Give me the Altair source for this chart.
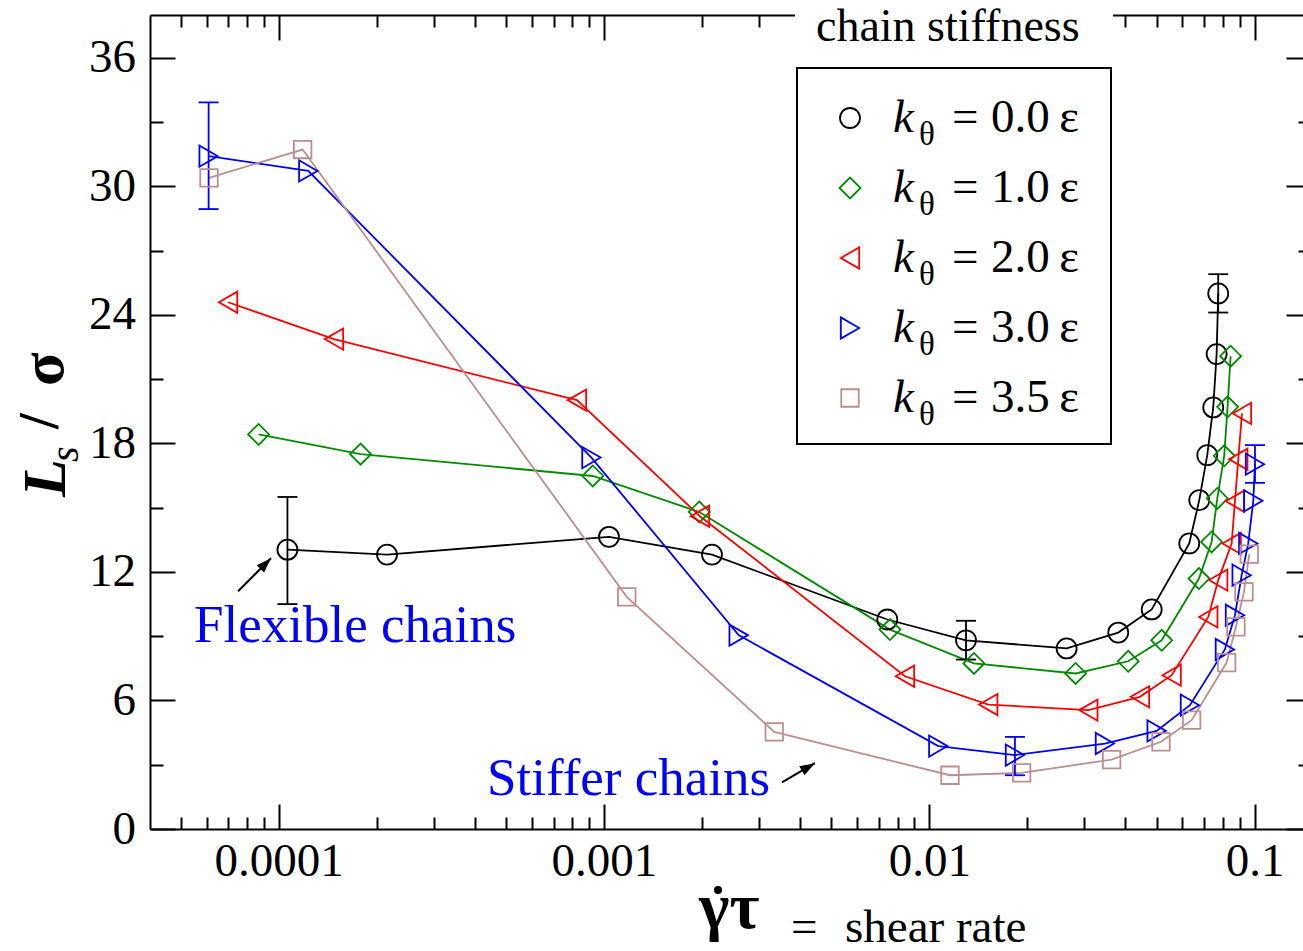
import altair as alt
import pandas as pd

FONT = "Liberation Serif"

# ---------------- data ----------------
series = ["0.0", "1.0", "2.0", "3.0", "3.5"]
colors = ["#000000", "#008b00", "#ff0000", "#0000ff", "#bc8f8f"]
shapes = ["circle", "diamond", "triangle-left", "triangle-right", "square"]
sizes = [400, 441, 450, 450, 306]

k00_x = [1.064e-4, 2.153e-4, 1.036e-3, 2.148e-3, 7.43e-3, 0.01297, 0.02644, 0.0381,
         0.04828, 0.06299, 0.06761, 0.07154, 0.07464, 0.07645, 0.07732]
k00_y = [13.04, 12.81, 13.64, 12.81, 9.78, 8.81, 8.43, 9.17, 10.25, 13.33, 15.35,
         17.45, 19.68, 22.17, 25.0]
k10_x = [8.675e-5, 1.786e-4, 9.24e-4, 1.963e-3, 7.57e-3, 0.01372, 0.02818, 0.04089,
         0.05181, 0.06747, 0.07379, 0.07681, 0.08066, 0.08262, 0.08439]
k10_y = [18.42, 17.50, 16.48, 14.80, 9.31, 7.73, 7.26, 7.83, 8.81, 11.69, 13.40,
         15.43, 17.42, 19.71, 22.07]
k20_x = [6.99e-5, 1.479e-4, 8.26e-4, 1.973e-3, 8.42e-3, 0.01518, 0.03083, 0.04443,
         0.05561, 0.07207, 0.07732, 0.08503, 0.08705, 0.08911, 0.09147]
k20_y = [24.59, 22.87, 20.02, 14.60, 7.13, 5.81, 5.55, 6.17, 7.18, 9.90, 11.62,
         13.33, 15.30, 17.26, 19.40]
k30_x = [6.09e-5, 1.233e-4, 9.15e-4, 2.594e-3, 0.01066, 0.01834, 0.03467, 0.0500,
         0.06328, 0.08105, 0.08705, 0.09126, 0.09563, 0.0991, 0.1003]
k30_y = [31.41, 30.72, 17.34, 9.05, 3.87, 3.45, 3.99, 4.58, 5.78, 8.38, 9.98,
         11.85, 13.33, 15.32, 17.03]
k35_x = [6.107e-5, 1.185e-4, 1.175e-3, 3.338e-3, 0.01158, 0.01923, 0.03636, 0.05157,
         0.06406, 0.08206, 0.08766, 0.09277, 0.09632]
k35_y = [30.40, 31.72, 10.84, 4.53, 2.51, 2.62, 3.24, 4.07, 5.08, 7.77, 9.44,
         11.07, 12.83]

err_series = ["0.0", "0.0", "0.0", "3.0", "3.0", "3.0"]
err_x = [1.064e-4, 0.01297, 0.07732, 6.09e-5, 0.01834, 0.1003]
err_lo = [10.5, 7.91, 24.11, 28.94, 2.51, 16.16]
err_hi = [15.5, 9.72, 25.9, 33.92, 4.30, 17.92]

ann_text = ["Flexible chains", "Stiffer chains"]
ann_x = [5.49e-5, 4.37e-4]
ann_y = [8.73, 1.58]

arrow_tail_x = [7.5e-5, 3.525e-3]
arrow_tail_y = [11.10, 2.18]
arrow_tip_x = [9.47e-5, 4.45e-3]
arrow_tip_y = [12.64, 3.07]
arrow_angle = [45, 60]

x_ticks = [round(m * 10.0 ** e, 12) for e in (-5, -4, -3, -2) for m in range(1, 10)
           if 4.5e-5 < m * 10.0 ** e < 0.095] + [0.1]
y_ticks = list(range(0, 37, 3))

# ---------------- tables ----------------
xs = [k00_x, k10_x, k20_x, k30_x, k35_x]
ys = [k00_y, k10_y, k20_y, k30_y, k35_y]
df = pd.concat([pd.DataFrame({"x": a, "y": b, "s": n}) for a, b, n in zip(xs, ys, series)],
               ignore_index=True)
err_df = pd.DataFrame({"s": err_series, "x": err_x, "lo": err_lo, "hi": err_hi})
ann_df = pd.DataFrame({"t": ann_text, "x": ann_x, "y": ann_y})
dummy = pd.DataFrame({"d": [0]})

xscale = alt.Scale(type="log", domain=[4.022e-5, 0.1409], nice=False)
yscale = alt.Scale(domain=[0, 38], nice=False, zero=False)
cscale = alt.Scale(domain=series, range=colors)

MAJX = "abs(log(datum.value)/LN10 - round(log(datum.value)/LN10)) < 0.001"
MAJY = "datum.value % 6 === 0"

common = dict(domainColor="black", domainWidth=2, tickColor="black", tickWidth=2,
              grid=False, title=None, zindex=0)

bottom_axis = alt.Axis(orient="bottom", values=x_ticks,
                       tickSize=alt.ExprRef(expr=f"({MAJX}) ? -25 : -12"),
                       labelExpr=f"({MAJX}) ? format(datum.value, '~g') : ''",
                       labelFont=FONT, labelFontSize=47, labelColor="black",
                       labelBaseline="alphabetic", labelPadding=71,
                       labelFlush=False, labelOverlap=False, **common)
left_axis = alt.Axis(orient="left", values=y_ticks,
                     tickSize=alt.ExprRef(expr=f"({MAJY}) ? -25 : -13"),
                     labelExpr=f"({MAJY}) ? datum.label : ''",
                     labelFont=FONT, labelFontSize=47, labelColor="black",
                     labelBaseline="middle", labelPadding=39.5,
                     labelOverlap=False, **common)
top_axis = alt.Axis(orient="top", values=x_ticks, labels=False,
                    tickSize=alt.ExprRef(expr=f"({MAJX}) ? -25 : -12"), **common)
right_axis = alt.Axis(orient="right", values=y_ticks, labels=False, domain=False,
                      tickSize=alt.ExprRef(expr=f"({MAJY}) ? -17 : -5"), **common)

X = lambda ax=None, f="x": alt.X(f"{f}:Q", scale=xscale, axis=ax)
Y = lambda ax=None, f="y": alt.Y(f"{f}:Q", scale=yscale, axis=ax)


def txt(text, x, y, size, weight="normal", style="normal", angle=0, color="black"):
    return alt.Chart(dummy).mark_text(text=text, font=FONT, fontSize=size, fontWeight=weight,
                                      fontStyle=style, angle=angle, align="left",
                                      baseline="alphabetic", color=color).encode(
        x=alt.value(x), y=alt.value(y))


layers = []
# lines (carry bottom/left axes)
layers.append(alt.Chart(df).mark_line(strokeWidth=1.8).encode(
    x=X(bottom_axis), y=Y(left_axis),
    color=alt.Color("s:N", scale=cscale, legend=None)))
# invisible layer carrying the top/right axes
layers.append(alt.Chart(df).mark_point(opacity=0).encode(x=X(top_axis), y=Y(right_axis)))

# error bars
layers.append(alt.Chart(err_df).mark_rule(strokeWidth=1.8).encode(
    x=X(), y=Y(f="lo"), y2="hi", color=alt.Color("s:N", scale=cscale, legend=None)))
for f in ("lo", "hi"):
    layers.append(alt.Chart(err_df).mark_rule(strokeWidth=1.8, xOffset=-10, x2Offset=10).encode(
        x=X(), x2="x", y=Y(f=f), color=alt.Color("s:N", scale=cscale, legend=None)))

# markers
for name, col, shp, sz in zip(series, colors, shapes, sizes):
    layers.append(alt.Chart(df[df.s == name]).mark_point(
        shape=shp, size=sz, filled=False, strokeWidth=1.8, color=col, opacity=1
    ).encode(x=X(), y=Y()))

# annotations
layers.append(alt.Chart(ann_df).mark_text(font=FONT, fontSize=53, color="#0000ff",
                                          align="left", baseline="alphabetic").encode(
    x=X(), y=Y(), text="t:N"))
arr_df = pd.DataFrame({"x": arrow_tail_x, "y": arrow_tail_y, "x2": arrow_tip_x, "y2": arrow_tip_y})
layers.append(alt.Chart(arr_df).mark_rule(strokeWidth=2, color="black").encode(
    x=X(), x2="x2", y=Y(), y2="y2"))
for i, ang in enumerate(arrow_angle):
    layers.append(alt.Chart(arr_df.iloc[[i]]).mark_point(
        shape="M0,0L-0.35,1L0.35,1Z", size=900, filled=True, color="black",
        opacity=1, angle=ang, strokeWidth=0).encode(x=X(f="x2"), y=Y(f="y2")))

# legend title with white background over the top axis
layers.append(alt.Chart(dummy).mark_rect(fill="white").encode(
    x=alt.value(645), x2=alt.value(963), y=alt.value(-15), y2=alt.value(45)))
layers.append(txt("chain stiffness", 666, 26, 46))
# legend box
layers.append(alt.Chart(dummy).mark_rect(fill="white", stroke="black", strokeWidth=2).encode(
    x=alt.value(647), x2=alt.value(961), y=alt.value(53), y2=alt.value(429)))
for i, (name, col, shp, sz) in enumerate(zip(series, colors, shapes, sizes)):
    yy = 103 + 70 * i
    layers.append(alt.Chart(dummy).mark_point(shape=shp, size=sz, filled=False, strokeWidth=1.8,
                                              color=col, opacity=1).encode(
        x=alt.value(700), y=alt.value(yy)))
    layers.append(txt("k", 743, yy + 14, 47, style="italic"))
    layers.append(txt("θ", 769, yy + 27, 33))
    layers.append(txt("=", 802, yy + 14, 47))
    layers.append(txt(f"{name}\u2009ε", 841, yy + 14, 47))

# y-axis title: L_s / σ (rotated)
layers.append(txt("L", -85, 482, 62, weight="bold", style="italic", angle=270))
layers.append(txt("s", -72, 447, 40, style="italic", angle=270))
layers.append(txt("/", -92, 414, 56, weight="bold", angle=270))
layers.append(txt("σ", -87, 371, 62, weight="bold", angle=270))

# x-axis title: γ̇τ = shear rate
layers.append(txt("γτ", 549, 913, 65, weight="bold"))
layers.append(alt.Chart(dummy).mark_point(shape="circle", size=64, filled=True, color="black",
                                          opacity=1).encode(x=alt.value(568), y=alt.value(875)))
layers.append(txt("=", 641, 926.7, 47))
layers.append(txt("shear rate", 695, 926.7, 47))

chart = alt.layer(*layers).resolve_axis(x="independent", y="independent").properties(
    width=1153, height=814,
    autosize=alt.AutoSizeParams(type="none"),
    padding={"left": 150, "top": 15, "right": 0, "bottom": 122},
    background="white",
).configure_view(stroke=None)

chart.save("out.html", embed_options={"renderer": "svg", "actions": False})
